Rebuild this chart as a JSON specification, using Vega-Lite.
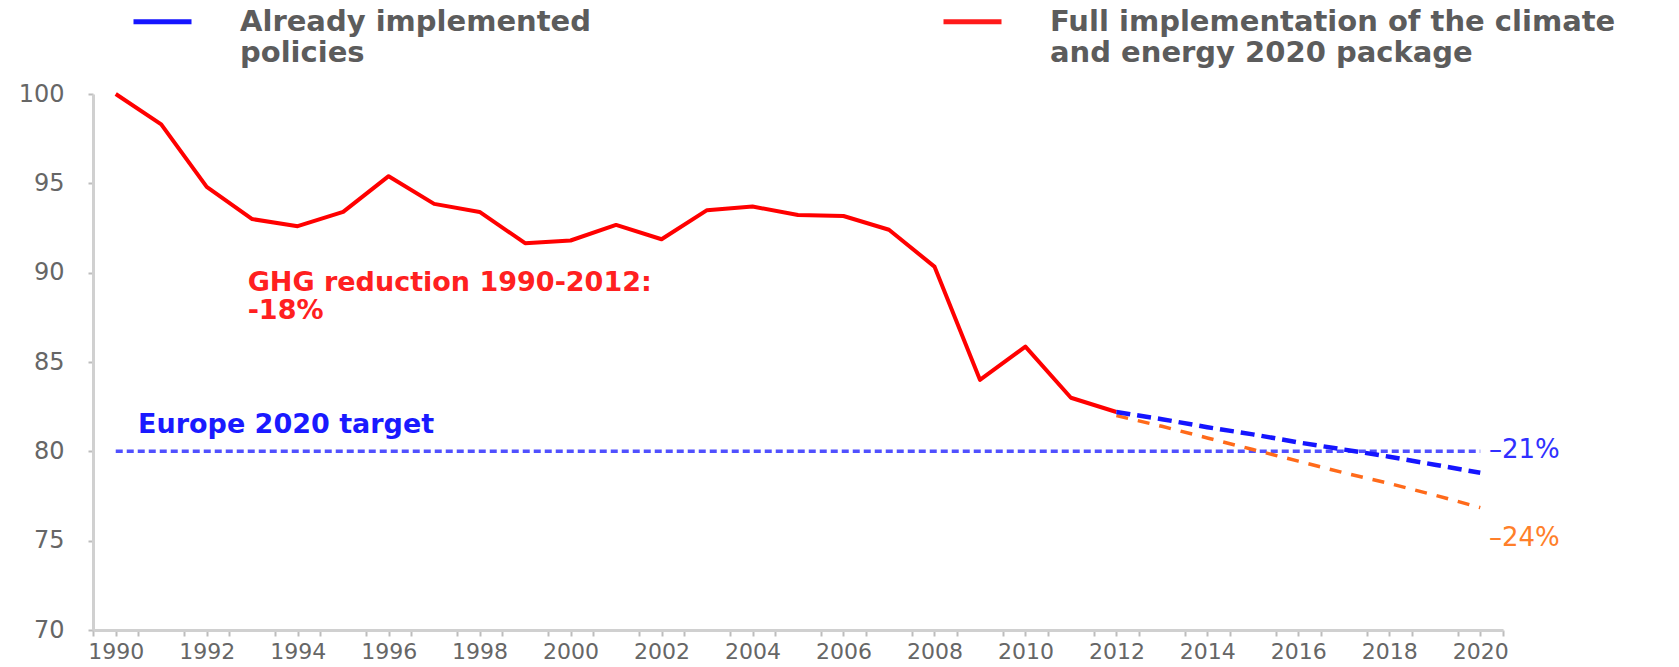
{
  "$schema": "https://vega.github.io/schema/vega-lite/v6.json",
  "width": 1410,
  "height": 536,
  "autosize": "none",
  "padding": {"left": 93, "top": 94, "right": 176, "bottom": 37},
  "background": "white",
  "config": {"view": {"stroke": null}, "font": "DejaVu Sans"},
  "datasets": {
    "historical": [
      {"year": 1990, "value": 100.0}, {"year": 1991, "value": 98.3}, {"year": 1992, "value": 94.8},
      {"year": 1993, "value": 93.0}, {"year": 1994, "value": 92.6}, {"year": 1995, "value": 93.4},
      {"year": 1996, "value": 95.4}, {"year": 1997, "value": 93.85}, {"year": 1998, "value": 93.4},
      {"year": 1999, "value": 91.65}, {"year": 2000, "value": 91.8}, {"year": 2001, "value": 92.67},
      {"year": 2002, "value": 91.87}, {"year": 2003, "value": 93.5}, {"year": 2004, "value": 93.7},
      {"year": 2005, "value": 93.23}, {"year": 2006, "value": 93.17}, {"year": 2007, "value": 92.4},
      {"year": 2008, "value": 90.34}, {"year": 2009, "value": 84.0}, {"year": 2010, "value": 85.86},
      {"year": 2011, "value": 83.0}, {"year": 2012, "value": 82.2}
    ],
    "already": [
      {"year": 2012, "value": 82.2, "scenario": "Already implemented policies"},
      {"year": 2013, "value": 81.8, "scenario": "Already implemented policies"},
      {"year": 2014, "value": 81.35, "scenario": "Already implemented policies"},
      {"year": 2015, "value": 80.95, "scenario": "Already implemented policies"},
      {"year": 2016, "value": 80.5, "scenario": "Already implemented policies"},
      {"year": 2017, "value": 80.1, "scenario": "Already implemented policies"},
      {"year": 2018, "value": 79.7, "scenario": "Already implemented policies"},
      {"year": 2019, "value": 79.25, "scenario": "Already implemented policies"},
      {"year": 2020, "value": 78.8, "scenario": "Already implemented policies"}
    ],
    "full": [
      {"year": 2012, "value": 82.0}, {"year": 2013, "value": 81.4}, {"year": 2014, "value": 80.75},
      {"year": 2015, "value": 80.1}, {"year": 2016, "value": 79.45}, {"year": 2017, "value": 78.8},
      {"year": 2018, "value": 78.2}, {"year": 2019, "value": 77.55}, {"year": 2020, "value": 76.85}
    ],
    "target": [
      {"year": 1990, "value": 80}, {"year": 2020, "value": 80}
    ]
  },
  "encoding": {
    "x": {
      "field": "year", "type": "quantitative",
      "scale": {"domain": [1989.5, 2020.5], "nice": false, "zero": false},
      "axis": {
        "title": null, "grid": false,
        "values": [1989.5,1990,1990.5,1991.5,1992,1992.5,1993.5,1994,1994.5,1995.5,1996,1996.5,1997.5,1998,1998.5,1999.5,2000,2000.5,2001.5,2002,2002.5,2003.5,2004,2004.5,2005.5,2006,2006.5,2007.5,2008,2008.5,2009.5,2010,2010.5,2011.5,2012,2012.5,2013.5,2014,2014.5,2015.5,2016,2016.5,2017.5,2018,2018.5,2019.5,2020,2020.5],
        "labelExpr": "datum.value % 2 == 0 ? format(datum.value, 'd') : ''",
        "labelOverlap": false, "labelFlush": false, "labelBound": false,
        "labelFontSize": 22, "labelColor": "#666666", "labelPadding": 5,
        "domainColor": "#d0d0d0", "domainWidth": 3,
        "tickColor": "#bdbdbd", "tickWidth": 2, "tickSize": 6,
        "encode": {"ticks": {"update": {"opacity": {"signal": "datum.value % 1 == 0 ? 0 : 1"}}}}
      }
    },
    "y": {
      "field": "value", "type": "quantitative",
      "scale": {"domain": [70, 100], "nice": false, "zero": false},
      "axis": {
        "title": null, "grid": false, "values": [70, 75, 80, 85, 90, 95, 100],
        "labelFontSize": 24, "labelColor": "#666666", "labelPadding": 24,
        "domainColor": "#d0d0d0", "domainWidth": 3,
        "tickColor": "#bdbdbd", "tickWidth": 2, "tickSize": 5
      }
    }
  },
  "layer": [
    {
      "data": {"name": "target"},
      "mark": {"type": "line", "color": "#5050ff", "strokeWidth": 3.5, "strokeDash": [7, 4]}
    },
    {
      "data": {"name": "historical"},
      "mark": {"type": "line", "color": "#ff0000", "strokeWidth": 4, "strokeJoin": "round"}
    },
    {
      "data": {"name": "full"},
      "mark": {"type": "line", "color": "#ff6a1a", "strokeWidth": 3.5, "strokeDash": [12, 10]}
    },
    {
      "data": {"name": "already"},
      "mark": {"type": "line", "strokeWidth": 4.5, "strokeDash": [14, 7]},
      "encoding": {
        "color": {
          "field": "scenario", "type": "nominal",
          "scale": {"domain": ["Already implemented policies", "Full implementation of the climate and energy 2020 package"], "range": ["#1515ff", "#ff1a1a"]},
          "legend": {
            "orient": "none", "legendX": 38, "legendY": -104,
            "direction": "horizontal", "columns": 2, "columnPadding": 341,
            "title": null, "padding": 0,
            "symbolType": "stroke", "symbolSize": 3364, "symbolStrokeWidth": 5, "symbolDash": [],
            "labelFontSize": 29, "labelFontWeight": "bold", "labelColor": "#5c5c5c",
            "labelLimit": 0, "labelOffset": 46, "labelBaseline": "middle",
            "labelExpr": "datum.label == 'Already implemented policies' ? ['Already implemented', 'policies'] : ['Full implementation of the climate', 'and energy 2020 package']",
            "encode": {"labels": {"update": {"lineHeight": {"value": 31}}}}
          }
        }
      }
    },
    {
      "data": {"values": [{"year": 1992.9, "value": 89.0, "label": "GHG reduction 1990-2012:\n-18%"}]},
      "mark": {"type": "text", "align": "left", "baseline": "alphabetic", "fontSize": 27, "fontWeight": "bold", "color": "#ff2020", "lineBreak": "\n", "lineHeight": 28},
      "encoding": {"text": {"field": "label"}}
    },
    {
      "data": {"values": [{"year": 1990.49, "value": 81.03, "label": "Europe 2020 target"}]},
      "mark": {"type": "text", "align": "left", "baseline": "alphabetic", "fontSize": 27, "fontWeight": "bold", "color": "#1a1aff"},
      "encoding": {"text": {"field": "label"}}
    },
    {
      "data": {"values": [{"year": 2020.19, "value": 79.63, "label": "–21%"}]},
      "mark": {"type": "text", "align": "left", "baseline": "alphabetic", "fontSize": 26, "color": "#3030ff"},
      "encoding": {"text": {"field": "label"}}
    },
    {
      "data": {"values": [{"year": 2020.19, "value": 74.71, "label": "–24%"}]},
      "mark": {"type": "text", "align": "left", "baseline": "alphabetic", "fontSize": 26, "color": "#ff7f2a"},
      "encoding": {"text": {"field": "label"}}
    }
  ]
}
